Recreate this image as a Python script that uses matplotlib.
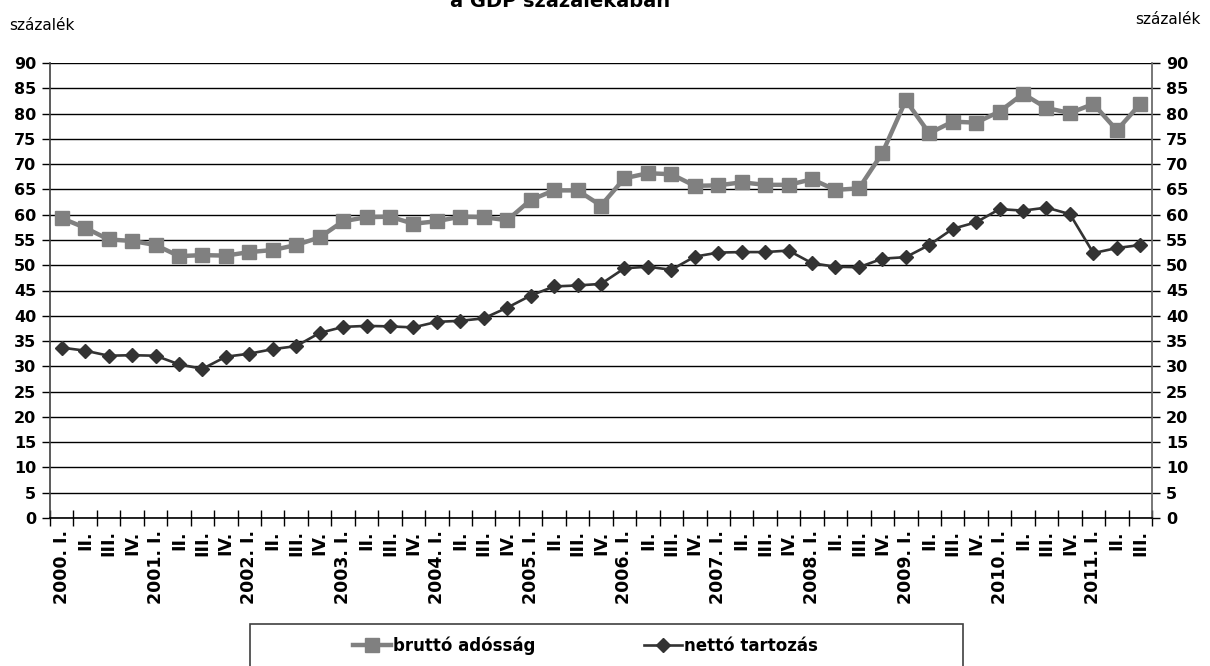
import matplotlib
matplotlib.use("Agg")
import matplotlib.pyplot as plt
import matplotlib.patches as mpatches
import numpy as np

plt.rcParams.update({
    "font.family": "DejaVu Sans",
    "figure.facecolor": "white",
    "axes.facecolor": "white",
})

GRAY = "#808080"
DARK = "#333333"

# ---------------------------------------------------------------- data
years = list(range(2000, 2012))
quarters = ["I.", "II.", "III.", "IV."]

brutto = [59.3, 57.4, 55.1, 54.8,
          54.0, 51.8, 52.0, 51.9,
          52.6, 53.0, 54.0, 55.5,
          58.7, 59.5, 59.6, 58.2,
          58.7, 59.6, 59.5, 58.9,
          62.9, 64.8, 64.8, 61.8,
          67.2, 68.2, 68.0, 65.7,
          65.8, 66.4, 65.9, 65.9,
          67.0, 64.9, 65.2, 72.2,
          82.6, 76.1, 78.4, 78.2,
          80.4, 83.9, 81.1, 80.1,
          81.9, 76.7, 81.9]

netto = [33.7, 33.1, 32.1, 32.2,
         32.1, 30.4, 29.5, 31.9,
         32.5, 33.4, 34.0, 36.6,
         37.8, 38.0, 37.9, 37.7,
         38.8, 39.0, 39.5, 41.6,
         44.0, 45.8, 46.0, 46.3,
         49.4, 49.7, 49.1, 51.7,
         52.5, 52.6, 52.6, 52.9,
         50.4, 49.7, 49.6, 51.3,
         51.6, 54.0, 57.2, 58.5,
         61.1, 60.8, 61.4, 60.1,
         52.4, 53.4, 54.0]

labels = []
for y in years:
    for i, q in enumerate(quarters):
        labels.append(f"{y}. {q}" if i == 0 else q)
labels = labels[:len(brutto)]

# ---------------------------------------------------------------- figure
fig = plt.figure(figsize=(12.1, 6.66), dpi=100)
ax = fig.add_axes([50 / 1210, 1 - 518 / 666, 1102 / 1210, (518 - 63) / 666])

x = np.arange(len(brutto))
ax.plot(x, brutto, color=GRAY, linewidth=3.2, marker="s", markersize=9.5,
        label="bruttó adósság", zorder=3)
ax.plot(x, netto, color=DARK, linewidth=1.9, marker="D", markersize=7.5,
        label="nettó tartozás", zorder=4)

ax.set_xlim(-0.5, len(brutto) - 0.5)
ax.set_ylim(0, 90)
ax.set_yticks(np.arange(0, 91, 5))
ax.yaxis.grid(True, color="black", linewidth=1.0)
ax.set_axisbelow(True)

ax.set_xticks(x)
ax.set_xticklabels(labels, rotation=90, fontsize=12.5, fontweight="bold")
ax.set_xticks(np.arange(-0.5, len(brutto)), minor=True)
ax.tick_params(axis="x", which="major", length=0, pad=9)
ax.tick_params(axis="x", which="minor", direction="inout", length=12, width=1)

ax.tick_params(axis="y", which="major", direction="out", length=6, width=1,
               labelsize=11.5, left=True, right=True, labelleft=True,
               labelright=True, pad=4)
for lab in ax.get_yticklabels():
    lab.set_fontweight("bold")

ax.spines["top"].set_visible(False)
ax.spines["left"].set_color("#404040")
ax.spines["right"].set_color("#606060")
ax.spines["bottom"].set_color("black")
for s in ax.spines.values():
    s.set_linewidth(1.2)

# ---------------------------------------------------------------- texts
fig.text(560 / 1210, 1 - 7 / 666, "a GDP százalékában", ha="center",
         va="baseline", fontsize=14, fontweight="bold")
fig.text(9 / 1210, 1 - 25 / 666, "százalék", ha="left", va="center", fontsize=11)
fig.text(1201 / 1210, 1 - 20 / 666, "százalék", ha="right", va="center", fontsize=11)

# ---------------------------------------------------------------- legend
box = mpatches.Rectangle((250 / 1210, -0.05), (963 - 250) / 1210,
                         0.05 + 1 - 624 / 666, transform=fig.transFigure,
                         facecolor="white", edgecolor="#404040", linewidth=1.2)
fig.patches.append(box)
leg = fig.legend(loc="center left", bbox_to_anchor=(353 / 1210, 1 - 646 / 666),
                 ncol=2, frameon=False, borderpad=0, borderaxespad=0,
                 handlelength=2.3, handletextpad=0.1, columnspacing=6.5,
                 prop={"size": 12, "weight": "bold"})

fig.savefig("out.png", dpi=100)
